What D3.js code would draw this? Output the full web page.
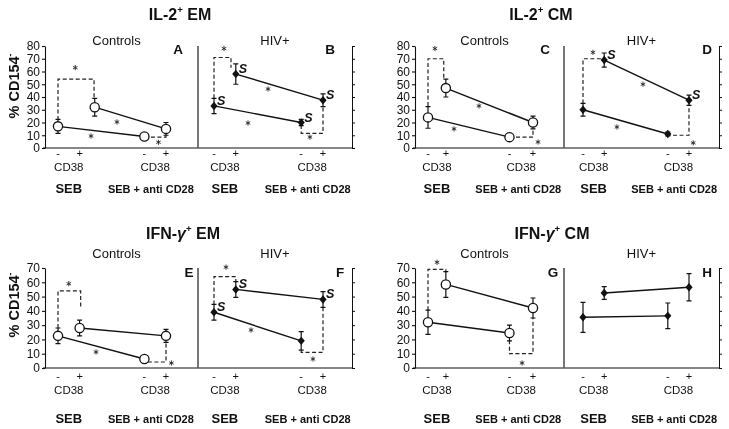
<!DOCTYPE html>
<html><head><meta charset="utf-8">
<script src="https://cdn.jsdelivr.net/npm/d3@7"></script>
<style>
body{margin:0;background:#fff}
svg{display:block;will-change:transform}
text{font-family:"Liberation Sans",Arial,sans-serif;fill:#111}
</style>
</head><body>
<svg id="chart" width="729" height="429"></svg>
<script>
// ================= DATA =================
const figureTitles = ["IL-2⁺ EM", "IL-2⁺ CM", "IFN-γ⁺ EM", "IFN-γ⁺ CM"];
const groupLabels = ["Controls", "HIV+"];
const panelLetters = ["A", "B", "C", "D", "E", "F", "G", "H"];
const cd38Signs = ["-", "+", "-", "+"];
const markerLabel = "CD38";
const stimLabels = ["SEB", "SEB + anti CD28"];
const yAxisLabel = "% CD154⁻";
const yTicksIL2 = [0, 10, 20, 30, 40, 50, 60, 70, 80];
const yTicksIFN = [0, 10, 20, 30, 40, 50, 60, 70];

// per panel A..H, values for [SEB, SEB + anti CD28]
const cd38NegMean = [[17, 9], [33, 20], [24, 8.5], [30, 11], [22.5, 6.3], [39, 19], [32, 24.5], [35.5, 36.5]];
const cd38NegErr  = [[5.5, 2], [6, 2.5], [8.5, 3], [5, 1.5], [5.5, 1.5], [5.5, 6.5], [8.5, 5.5], [10.5, 9]];
const cd38PosMean = [[32, 15], [58, 37.5], [47, 20], [69, 37.5], [28, 22.5], [55, 48], [58.5, 42], [52.5, 56.5]];
const cd38PosErr  = [[7, 5], [8, 5], [7, 5], [5.5, 4], [5.5, 4.5], [5.5, 5.5], [9, 7], [4.5, 9.5]];

// significance brackets: panel, x1, v1, level, x2, v2, starX, starV (x in category units)
const sigBrackets = [
  ["A", 0, 22, 54, 1.67, 39, 0.8, 63],
  ["A", 4, 8.6, 8.6, 5, 10, 4.65, 4.5],
  ["B", 0, 39, 71, 0.78, 63, 0.46, 78],
  ["B", 4, 18, 11.5, 5, 33, 4.4, 8.6],
  ["C", 0, 33, 70, 0.75, 54, 0.33, 78],
  ["C", 3.88, 8.5, 8.5, 5, 15, 5.24, 4.7],
  ["D", 0, 35, 70, 1, 70, 0.47, 75],
  ["D", 4, 11, 10, 5, 34, 5.2, 4],
  ["E", 0, 28, 54, 1.05, 42.6, 0.5, 59],
  ["E", 4, 6.3, 4.2, 5, 18, 5.25, 3.5],
  ["F", 0, 44.5, 64, 1, 60, 0.55, 70.6],
  ["F", 4, 12.5, 11, 5, 42.5, 4.54, 6.3],
  ["G", 0, 40.5, 69, 0.85, 67, 0.43, 74],
  ["G", 3.88, 19.5, 10, 5, 35, 4.48, 3.5]
];
// asterisks on trend lines: panel, x (category units), value
const trendStars = [["A", 2.73, 20.4], ["A", 1.53, 9.4], ["B", 2.48, 46.3], ["B", 1.56, 19.6],
  ["C", 2.43, 33], ["C", 1.24, 15], ["D", 2.83, 50], ["D", 1.6, 16.5], ["E", 1.76, 11.2], ["F", 1.7, 26.6]];
// "S" marks (vs controls): panel, series, stimulation index
const sigVsControl = [["B", "neg", 0], ["B", "pos", 0], ["B", "neg", 1], ["B", "pos", 1],
  ["D", "pos", 0], ["D", "pos", 1], ["F", "neg", 0], ["F", "pos", 0], ["F", "pos", 1]];

// ================= LAYOUT =================
const rows = [
  {base: 148, top: 46, max: 80, ticks: yTicksIL2, titleY: 20, subY: 44.5, letterY: 54, pmY: 157, cdY: 171, stimY: 193, ylabY: 86},
  {base: 368, top: 268, max: 70, ticks: yTicksIFN, titleY: 239, subY: 258, letterY: 277, pmY: 380, cdY: 394, stimY: 423, ylabY: 305}
];
const cols = [
  {yAxis: 45, div: 198, right: 352, ctrl: [58, 166], hiv: [214, 323], ctrlCats: [0, 1, 4, 5], hivCats: [0, 1, 4, 5], titleX: [180, 183], subOff: -5},
  {yAxis: 415, div: 564, right: 719, ctrl: [428, 533], hiv: [583, 689], ctrlCats: [0, 0.85, 3.88, 5], hivCats: [0, 1, 4, 5], titleX: [541, 552], subOff: -5}
];
const letterX = [178, 330, 545, 707, 189, 340, 553, 707];
const pointOverride = {A: {pos0: 1.7}};

const svg = d3.select("#chart");

function richText(sel, str) {
  const segs = [];
  for (const ch of str) {
    let s = {t: ch, sup: false, it: false};
    if (ch === "⁺") s = {t: "+", sup: true, it: false};
    else if (ch === "⁻") s = {t: "-", sup: true, it: false};
    else if (ch === "γ") s = {t: "γ", sup: false, it: true};
    const last = segs[segs.length - 1];
    if (last && last.sup === s.sup && last.it === s.it) last.t += s.t; else segs.push(s);
  }
  let raised = false;
  segs.forEach(s => {
    const ts = sel.append("tspan").text(s.t);
    if (s.sup) { ts.attr("font-size", "0.6em").attr("dy", raised ? 0 : "-0.7em"); raised = true; }
    else if (raised) { ts.attr("dy", "0.42em"); raised = false; }
    if (s.it) ts.attr("font-style", "italic");
  });
}

function diamondPath(x, y) {
  return `M${x},${y - 4.2}L${x + 3.6},${y}L${x},${y + 4.2}L${x - 3.6},${y}Z`;
}
function asterisk(g, cx, cy) {
  const r = 2.6;
  let d = "";
  [90, 30, -30].forEach(a => {
    const rad = a * Math.PI / 180, dx = r * Math.cos(rad), dy = r * Math.sin(rad);
    d += `M${cx - dx},${cy - dy}L${cx + dx},${cy + dy}`;
  });
  g.append("path").attr("d", d).attr("stroke", "#222").attr("stroke-width", 0.9).attr("fill", "none");
}

// ========== figures (axes, frames, labels) ==========
rows.forEach((row, ri) => {
  cols.forEach((col, ci) => {
    const y = d3.scaleLinear().domain([0, row.max]).range([row.base, row.top]);
    const g = svg.append("g");
    richText(g.append("text").attr("x", col.titleX[ri]).attr("y", row.titleY)
      .attr("text-anchor", "middle").attr("font-size", 16).attr("font-weight", "bold"),
      figureTitles[ri * 2 + ci]);
    const ax = g.append("g").attr("transform", `translate(${col.yAxis},0)`)
      .call(d3.axisLeft(y).tickValues(row.ticks).tickSize(3).tickSizeOuter(0).tickPadding(2));
    ax.selectAll("text").attr("font-size", 12).attr("font-family", '"Liberation Sans",Arial,sans-serif').attr("fill", "#111");
    ax.selectAll("path,line").attr("stroke", "#111").attr("stroke-width", 1.1);
    const ax2 = g.append("g").attr("transform", `translate(${col.right},0)`)
      .call(d3.axisRight(y).tickValues(row.ticks).tickSize(3).tickSizeOuter(0).tickFormat(""));
    ax2.selectAll("path,line").attr("stroke", "#111").attr("stroke-width", 1);
    g.append("line").attr("x1", col.yAxis - 2).attr("x2", col.right).attr("y1", y(0)).attr("y2", y(0))
      .attr("stroke", "#111").attr("stroke-width", 1.2);
    g.append("line").attr("x1", col.div).attr("x2", col.div).attr("y1", y(0)).attr("y2", y(row.max))
      .attr("stroke", "#555").attr("stroke-width", 1.6);
    if (ci === 0) {
      richText(g.append("text").attr("transform", `translate(19,${row.ylabY}) rotate(-90)`)
        .attr("text-anchor", "middle").attr("font-size", 14.5).attr("font-weight", "bold"), yAxisLabel);
    }
  });
});

// ========== panels ==========
panelLetters.forEach((letter, p) => {
  const row = rows[Math.floor(p / 4)];
  const col = cols[Math.floor((p % 4) / 2)];
  const grp = p % 2;
  const y = d3.scaleLinear().domain([0, row.max]).range([row.base, row.top]);
  const x = d3.scaleLinear().domain([0, 5]).range(grp ? col.hiv : col.ctrl);
  const cats = grp ? col.hivCats : col.ctrlCats;
  const left = grp ? col.div : col.yAxis, right = grp ? col.right : col.div;
  const g = svg.append("g");

  g.append("text").attr("x", (left + right) / 2 + (grp ? 0 : col.subOff)).attr("y", row.subY)
    .attr("text-anchor", "middle").attr("font-size", 13).text(groupLabels[grp]);
  g.append("text").attr("x", letterX[p]).attr("y", row.letterY).attr("text-anchor", "middle")
    .attr("font-size", 13.5).attr("font-weight", "bold").text(letter);

  cd38Signs.forEach((s, i) => {
    g.append("text").attr("x", x(cats[i])).attr("y", row.pmY).attr("text-anchor", "middle")
      .attr("font-size", 11).text(s);
  });
  [0, 1].forEach(k => {
    g.append("text").attr("x", x((cats[k * 2] + cats[k * 2 + 1]) / 2)).attr("y", row.cdY)
      .attr("text-anchor", "middle").attr("font-size", 11.5).text(markerLabel);
  });
  g.append("text").attr("x", x((cats[0] + cats[1]) / 2)).attr("y", row.stimY).attr("text-anchor", "middle")
    .attr("font-size", 13).attr("font-weight", "bold").text(stimLabels[0]);
  g.append("text").attr("x", x(4.3)).attr("y", row.stimY).attr("text-anchor", "middle")
    .attr("font-size", 11).attr("font-weight", "bold").text(stimLabels[1]);

  const ov = pointOverride[letter] || {};
  const negX = [cats[0], cats[2]];
  const posX = [ov.pos0 !== undefined ? ov.pos0 : cats[1], cats[3]];
  const neg = cd38NegMean[p].map((v, i) => ({x: negX[i], v, e: cd38NegErr[p][i]}));
  const pos = cd38PosMean[p].map((v, i) => ({x: posX[i], v, e: cd38PosErr[p][i]}));

  sigBrackets.filter(b => b[0] === letter).forEach(b => {
    const [, x1, v1, lev, x2, v2, sx, sv] = b;
    g.append("path")
      .attr("d", `M${x(x1)},${y(v1)}V${y(lev)}H${x(x2)}V${y(v2)}`)
      .attr("fill", "none").attr("stroke", "#222").attr("stroke-width", 1.2).attr("stroke-dasharray", "4,2.5");
    asterisk(g, x(sx), y(sv));
  });

  const line = d3.line().x(d => x(d.x)).y(d => y(d.v));
  [neg, pos].forEach(s => {
    g.append("path").attr("d", line(s)).attr("fill", "none").attr("stroke", "#111").attr("stroke-width", 1.4);
  });

  [...neg, ...pos].forEach(d => {
    const cx = x(d.x);
    g.append("path")
      .attr("d", `M${cx},${y(d.v - d.e)}V${y(d.v + d.e)}M${cx - 2.5},${y(d.v - d.e)}H${cx + 2.5}M${cx - 2.5},${y(d.v + d.e)}H${cx + 2.5}`)
      .attr("stroke", "#111").attr("stroke-width", 1.2).attr("fill", "none");
  });

  [...neg, ...pos].forEach(d => {
    if (grp === 0) {
      g.append("circle").attr("cx", x(d.x)).attr("cy", y(d.v)).attr("r", 4.6)
        .attr("fill", "#fff").attr("stroke", "#111").attr("stroke-width", 1.3);
    } else {
      g.append("path").attr("d", diamondPath(x(d.x), y(d.v))).attr("fill", "#111");
    }
  });

  trendStars.filter(s => s[0] === letter).forEach(s => asterisk(g, x(s[1]), y(s[2])));

  sigVsControl.filter(s => s[0] === letter).forEach(s => {
    const d = (s[1] === "neg" ? neg : pos)[s[2]];
    g.append("text").attr("x", x(d.x) + 3).attr("y", y(d.v) - 1)
      .attr("font-family", '"Liberation Serif","Times New Roman",serif').attr("font-style", "italic")
      .attr("font-weight", "bold").attr("font-size", 12.5).text("S");
  });
});
</script>
</body></html>
